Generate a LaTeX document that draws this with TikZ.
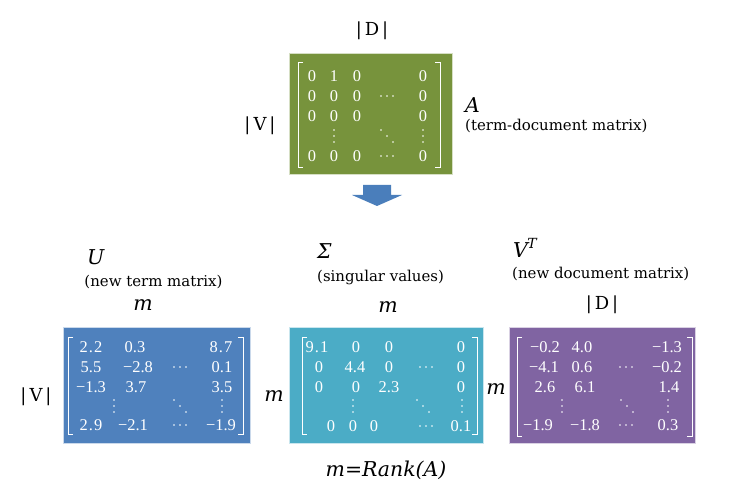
\documentclass[tikz,border=0pt]{standalone}
\usepackage{fontspec}
\newfontfamily\labfont{DejaVu Serif}
\newfontfamily\entfont{Liberation Serif}
\definecolor{boxgreen}{HTML}{77933C}
\definecolor{boxblue}{HTML}{4F81BD}
\definecolor{boxcyan}{HTML}{4BACC6}
\definecolor{boxpurple}{HTML}{8064A2}
\definecolor{arrowblue}{HTML}{4A7EBB}
\tikzset{
  lab/.style={font=\fontsize{15}{17}\selectfont\labfont, inner sep=0pt},
  sym/.style={font=\fontsize{20.5}{22}\selectfont\labfont\itshape, inner sep=0pt},
  dimlab/.style={font=\fontsize{18}{20}\selectfont\labfont, inner sep=0pt},
  ent/.style={font=\fontsize{16.5}{16.5}\selectfont\entfont, text=white, inner sep=0pt},
  mbox/.style={rectangle, inner sep=0pt, draw=white!70!#1, line width=0.6pt, fill=#1},
  brk/.style={draw=white, line width=0.9pt},
  hdots/.pic={\foreach \k in {-6,0,6} \fill[white] (\k,0) circle (0.95);},
  vdotsp/.pic={\foreach \k in {-6,0,6} \fill[white] (0,\k) circle (0.95);},
  ddotsp/.pic={\foreach \k in {-6,0,6} \fill[white] (\k,\k) circle (0.95);}
}
\newcommand{\mybrackets}[4]{%
  \draw[brk] ({#1+5},#3) -- (#1,#3) -- (#1,#4) -- ({#1+5},#4);
  \draw[brk] ({#2-5},#3) -- (#2,#3) -- (#2,#4) -- ({#2-5},#4);}
\newcommand{\dotsep}{\kern1.2pt.\kern1.2pt}
\begin{document}
\begin{tikzpicture}[x=1bp,y=-1bp]
\useasboundingbox (0,0) rectangle (754,504);
% ---------- A ----------
\node[mbox=boxgreen, minimum width=163bp, minimum height=121bp] (Abox) at (370.5,113.5) {};
\mybrackets{298}{440}{62}{167}
\foreach \n/\x/\y/\t in {
  a11/312/76/0, a12/334/76/1, a13/357/76/0, a15/423/76/0,
  a21/312/96/0, a22/334/96/0, a23/357/96/0, a25/423/96/0,
  a31/312/116/0, a32/334/116/0, a33/357/116/0, a35/423/116/0,
  a51/312/156/0, a52/334/156/0, a53/357/156/0, a55/423/156/0}
  \node[ent] (\n) at (\x,\y) {\t};
\pic (a24) at (387,96) {hdots};
\pic (a42) at (334,136) {vdotsp};
\pic (a44) at (387,136) {ddotsp};
\pic (a45) at (423,136) {vdotsp};
\pic (a54) at (387,156) {hdots};
\node[dimlab] (Atop) at (372,31) {|\kern3pt D\kern3pt|};
\node[dimlab] (Aleft) at (260,126) {|\kern3pt V\kern3pt|};
\node[sym, anchor=west] (Aname) at (465,105) {A};
\node[lab, anchor=west] (Adesc) at (465,126) {(term-document matrix)};
% ---------- arrow ----------
\coordinate (arrtop) at (377,185);
\fill[arrowblue] ([xshift=-14bp]arrtop) -- ([xshift=14bp]arrtop) -- ++(0,10) -- ++(11,0)
  -- (377,206) -- (352,195) -- ([xshift=-14bp,yshift=-10bp]arrtop) -- cycle;
% ---------- U ----------
\node[mbox=boxblue, minimum width=187bp, minimum height=116bp] (Ubox) at (156.5,385) {};
\mybrackets{68}{243}{337}{434}
\foreach \n/\x/\y/\t in {
  u11/91/347/2\dotsep2, u12/135/347/0.3, u14/221/347/8\dotsep7,
  u21/91/367/5.5, u22/138/367/−2.8, u24/222/367/0.1,
  u31/91/387/−1.3, u32/136/387/3.7, u34/222/387/3.5,
  u51/91/425/2\dotsep9, u52/133/425/−2.1, u54/221/425/−1.9}
  \node[ent] (\n) at (\x,\y) {\t};
\pic (u23) at (180,367) {hdots};
\pic (u41) at (114,406) {vdotsp};
\pic (u43) at (180,406) {ddotsp};
\pic (u44) at (222,406) {vdotsp};
\pic (u53) at (180,425) {hdots};
\node[sym, anchor=west] (Uname) at (87,257) {U};
\node[lab] (Udesc) at (153.5,282) {(new term matrix)};
\node[sym] (Utop) at (143,305) {m};
\node[dimlab] (Uleft) at (36,397) {|\kern3pt V\kern3pt|};
% ---------- Sigma ----------
\node[mbox=boxcyan, minimum width=194bp, minimum height=116bp] (Sbox) at (386,385) {};
\mybrackets{302}{477}{337}{434}
\foreach \n/\x/\y/\t in {
  s11/317/347/9\dotsep1, s12/356/347/0, s13/389/347/0, s15/461/347/0,
  s21/319/367/0, s22/355/367/4.4, s23/389/367/0, s25/461/367/0,
  s31/319/387/0, s32/356/387/0, s33/389/387/2.3, s35/461/387/0,
  s51/331/426/0, s52/353/426/0, s53/374/426/0, s55/461/426/0.1}
  \node[ent] (\n) at (\x,\y) {\t};
\pic (s24) at (426,367) {hdots};
\pic (s42) at (353,406) {vdotsp};
\pic (s44) at (423,406) {ddotsp};
\pic (s45) at (462,406) {vdotsp};
\pic (s54) at (426,426) {hdots};
\node[sym, anchor=west] (Sname) at (317,251) {Σ};
\node[lab, anchor=west] (Sdesc) at (317,277) {(singular values)};
\node[sym] (Stop) at (388,307) {m};
\node[sym] (Sleft) at (274,396) {m};
\node[sym] (rank) at (386,470) {m=Rank(A)};
% ---------- V^T ----------
\node[mbox=boxpurple, minimum width=186bp, minimum height=116bp] (Vbox) at (602,385.5) {};
\mybrackets{517}{692}{337}{436}
\foreach \n/\x/\y/\t in {
  v11/545/347/−0.2, v12/582/347/4.0, v14/667/347/−1.3,
  v21/544/367/−4.1, v22/582/367/0.6, v24/667/367/−0.2,
  v31/545/387/2.6, v32/585/387/6.1, v34/669/387/1.4,
  v51/538/425/−1.9, v52/585/425/−1.8, v54/668/425/0.3}
  \node[ent] (\n) at (\x,\y) {\t};
\pic (v23) at (626,367) {hdots};
\pic (v41) at (562,406) {vdotsp};
\pic (v43) at (627,406) {ddotsp};
\pic (v44) at (668,406) {vdotsp};
\pic (v53) at (626,425) {hdots};
\node[sym, anchor=west] (Vname) at (513,248) {V\kern-0.5pt\raisebox{0.42em}{\fontsize{14}{14}\selectfont T}};
\node[lab, anchor=west] (Vdesc) at (512,274) {(new document matrix)};
\node[dimlab] (Vtop) at (602,305) {|\kern3pt D\kern3pt|};
\node[sym] (Vleft) at (496,389) {m};
\end{tikzpicture}
\end{document}
